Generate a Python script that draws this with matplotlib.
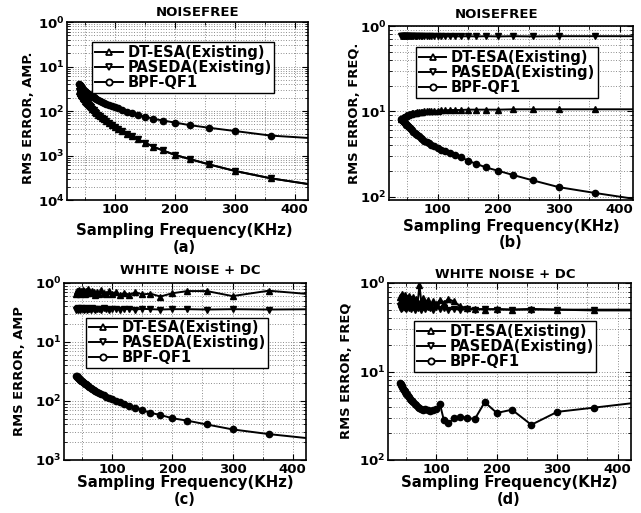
import matplotlib
matplotlib.use("Agg")
import matplotlib.pyplot as plt
from matplotlib.ticker import FixedLocator, NullFormatter, LogLocator

plt.rcParams['font.family'] = ['DejaVu Sans']
plt.rcParams['mathtext.default'] = 'regular'

# ---------------- data ----------------
fs_khz = [450.0, 360.0, 300.0, 257.1, 225.0, 200.0, 180.0, 163.6, 150.0, 138.5,
          128.6, 120.0, 112.5, 105.9, 100.0, 94.7, 90.0, 85.7, 81.8, 78.3,
          75.0, 72.0, 69.2, 66.7, 64.3, 62.1, 60.0, 58.1, 56.3, 54.5,
          52.9, 51.4, 50.0, 48.6, 47.4, 46.2, 45.0, 43.9, 42.9, 41.9,
          40.9, 40.0]

# (a) NOISEFREE amplitude error
bpf_a = [0.00235, 0.0028, 0.00355, 0.0042, 0.0048, 0.0055, 0.0061, 0.0067, 0.0075, 0.0082,
         0.0089, 0.0097, 0.0106, 0.0114, 0.0122, 0.0130, 0.0138, 0.0146, 0.0154, 0.0162,
         0.0170, 0.0178, 0.0186, 0.0194, 0.0202, 0.0210, 0.0218, 0.0226, 0.0235, 0.0244,
         0.0254, 0.0264, 0.0275, 0.0287, 0.0300, 0.0313, 0.0327, 0.0342, 0.0358, 0.0375,
         0.0393, 0.0412]
dtesa_a = [0.000200, 0.000307, 0.00045, 0.00063, 0.00083, 0.00103, 0.0013, 0.00158, 0.00195, 0.0023,
           0.0027, 0.0031, 0.0035, 0.0039, 0.0044, 0.0049, 0.0054, 0.0059, 0.0065, 0.0071,
           0.0077, 0.0083, 0.0090, 0.0097, 0.0104, 0.0112, 0.0120, 0.0128, 0.0136, 0.0145,
           0.0154, 0.0163, 0.0172, 0.0182, 0.0192, 0.0202, 0.0213, 0.0224, 0.0236, 0.0248,
           0.0261, 0.0275]
paseda_a = [0.000200, 0.000307, 0.00045, 0.00063, 0.00083, 0.00103, 0.0013, 0.00158, 0.00195, 0.0023,
            0.0027, 0.0031, 0.0035, 0.0039, 0.0044, 0.0049, 0.0054, 0.0059, 0.0065, 0.0071,
            0.0077, 0.0083, 0.0090, 0.0097, 0.0104, 0.0112, 0.0120, 0.0128, 0.0136, 0.0145,
            0.0154, 0.0163, 0.0172, 0.0182, 0.0192, 0.0202, 0.0213, 0.0224, 0.0236, 0.0248,
            0.0261, 0.0275]

# (b) NOISEFREE frequency error
dtesa_b = [0.106, 0.106, 0.106, 0.106, 0.106, 0.105, 0.105, 0.105, 0.105, 0.104,
           0.104, 0.104, 0.103, 0.103, 0.102, 0.102, 0.101, 0.101, 0.100, 0.100,
           0.099, 0.099, 0.098, 0.098, 0.097, 0.096, 0.096, 0.095, 0.094, 0.094,
           0.093, 0.092, 0.091, 0.090, 0.089, 0.088, 0.087, 0.086, 0.085, 0.084,
           0.083, 0.082]
paseda_b = [0.76, 0.76, 0.76, 0.755, 0.76, 0.755, 0.76, 0.755, 0.76, 0.755,
            0.76, 0.755, 0.76, 0.755, 0.76, 0.755, 0.76, 0.755, 0.76, 0.755,
            0.76, 0.755, 0.76, 0.755, 0.76, 0.755, 0.76, 0.755, 0.76, 0.755,
            0.76, 0.755, 0.76, 0.755, 0.76, 0.755, 0.76, 0.755, 0.76, 0.755,
            0.76, 0.755]
bpf_b = [0.0089, 0.0111, 0.0130, 0.0156, 0.0180, 0.0202, 0.0221, 0.0244, 0.0265, 0.0293,
         0.0310, 0.0325, 0.0342, 0.0358, 0.0372, 0.0390, 0.0405, 0.0422, 0.0440, 0.0457,
         0.0475, 0.0492, 0.0510, 0.0528, 0.0546, 0.0564, 0.0582, 0.0600, 0.0618, 0.0636,
         0.0654, 0.0670, 0.0686, 0.0700, 0.0716, 0.0730, 0.0745, 0.0760, 0.0775, 0.0790,
         0.0805, 0.0820]

# (c) WHITE NOISE + DC amplitude error
dtesa_c = [0.62, 0.74, 0.60, 0.73, 0.73, 0.67, 0.59, 0.66, 0.64, 0.70,
           0.63, 0.68, 0.62, 0.70, 0.66, 0.72, 0.64, 0.69, 0.75, 0.66,
           0.71, 0.63, 0.70, 0.74, 0.67, 0.72, 0.78, 0.69, 0.74, 0.66,
           0.72, 0.77, 0.68, 0.73, 0.65, 0.71, 0.76, 0.67, 0.72, 0.69,
           0.74, 0.66]
paseda_c = [0.36, 0.355, 0.36, 0.355, 0.36, 0.36, 0.355, 0.36, 0.365, 0.355,
            0.36, 0.365, 0.355, 0.36, 0.365, 0.355, 0.36, 0.37, 0.355, 0.36,
            0.365, 0.355, 0.36, 0.37, 0.355, 0.365, 0.36, 0.355, 0.37, 0.36,
            0.355, 0.365, 0.36, 0.37, 0.355, 0.365, 0.36, 0.355, 0.37, 0.36,
            0.365, 0.355]
bpf_c = [0.0022, 0.00275, 0.0033, 0.0040, 0.00464, 0.0051, 0.0058, 0.0063, 0.0070, 0.0077,
         0.0083, 0.0089, 0.0095, 0.0101, 0.0107, 0.0113, 0.0119, 0.0125, 0.0131, 0.0137,
         0.0143, 0.0149, 0.0155, 0.0161, 0.0167, 0.0173, 0.0179, 0.0185, 0.0191, 0.0197,
         0.0203, 0.0209, 0.0215, 0.0221, 0.0227, 0.0233, 0.0239, 0.0245, 0.0251, 0.0257,
         0.0263, 0.0268]

# (d) WHITE NOISE + DC frequency error
dtesa_d = [0.50, 0.50, 0.50, 0.51, 0.50, 0.51, 0.50, 0.51, 0.52, 0.55,
           0.62, 0.66, 0.60, 0.64, 0.58, 0.62, 0.55, 0.64, 0.60, 0.68,
           0.62, 0.95, 0.60, 0.66, 0.58, 0.70, 0.63, 0.66, 0.59, 0.72,
           0.64, 0.68, 0.60, 0.74, 0.66, 0.70, 0.62, 0.75, 0.68, 0.72,
           0.64, 0.70]
paseda_d = [0.49, 0.49, 0.50, 0.50, 0.50, 0.50, 0.51, 0.50, 0.51, 0.50,
            0.51, 0.50, 0.52, 0.51, 0.53, 0.50, 0.52, 0.54, 0.51, 0.53,
            0.50, 0.55, 0.52, 0.54, 0.50, 0.53, 0.55, 0.51, 0.54, 0.52,
            0.56, 0.53, 0.51, 0.55, 0.52, 0.54, 0.56, 0.52, 0.55, 0.53,
            0.51, 0.55]
bpf_d = [0.046, 0.039, 0.035, 0.025, 0.037, 0.034, 0.045, 0.029, 0.030, 0.031,
         0.0295, 0.026, 0.028, 0.043, 0.038, 0.037, 0.036, 0.037, 0.038, 0.037,
         0.038, 0.039, 0.040, 0.042, 0.043, 0.045, 0.046, 0.048, 0.049, 0.051,
         0.053, 0.055, 0.056, 0.058, 0.060, 0.062, 0.064, 0.066, 0.068, 0.070,
         0.072, 0.074]

series_names = ['DT-ESA(Existing)', 'PASEDA(Existing)', 'BPF-QF1']
panel_titles = ['NOISEFREE', 'NOISEFREE', 'WHITE NOISE + DC', 'WHITE NOISE + DC']
panel_ylabels = ['RMS ERROR, AMP.', 'RMS ERROR, FREQ.', 'RMS ERROR, AMP', 'RMS ERROR, FREQ']
panel_tags = ['(a)', '(b)', '(c)', '(d)']
x_label = 'Sampling Frequency(KHz)'
x_ticks = [100, 200, 300, 400]
ytick_vals_a = [1, 1e-1, 1e-2, 1e-3, 1e-4]
ytick_vals_b = [1, 1e-1, 1e-2]
ytick_vals_c = [1, 1e-1, 1e-2, 1e-3]
ytick_vals_d = [1, 1e-1, 1e-2]
ytick_text_a = ['$10^{0}$', '$10^{1}$', '$10^{2}$', '$10^{3}$', '$10^{4}$']
ytick_text_b = ['$10^{0}$', '$10^{1}$', '$10^{2}$']
ytick_text_c = ['$10^{0}$', '$10^{1}$', '$10^{2}$', '$10^{3}$']
ytick_text_d = ['$10^{0}$', '$10^{1}$', '$10^{2}$']

# ---------------- layout ----------------
W, H = 641, 513
fig = plt.figure(figsize=(W / 100, H / 100), dpi=100)


def ax_px(left, top, right, bottom):
    return fig.add_axes([left / W, 1 - bottom / H, (right - left) / W, (bottom - top) / H])


def ftext(x, y, s, **kw):
    fig.text(x / W, 1 - y / H, s, ha='center', va='center', **kw)


panels = [
    dict(box=(67, 22, 308, 200), ylim=(1e-4, 1), yt=ytick_vals_a, ytl=ytick_text_a,
         data=(dtesa_a, paseda_a, bpf_a), leg=(0.105, 0.885),
         title=(198, 12), xl=(184, 230), tag=(184, 248), yl=(28, 118)),
    dict(box=(389, 26, 633, 200), ylim=(0.0092, 1), yt=ytick_vals_b, ytl=ytick_text_b,
         data=(dtesa_b, paseda_b, bpf_b), leg=(0.110, 0.880),
         title=(497, 15), xl=(511, 227), tag=(511, 243), yl=(355, 113)),
    dict(box=(64, 283, 306, 460), ylim=(1e-3, 1), yt=ytick_vals_c, ytl=ytick_text_c,
         data=(dtesa_c, paseda_c, bpf_c), leg=(0.092, 0.805),
         title=(190, 271), xl=(185, 483), tag=(185, 500), yl=(20, 371)),
    dict(box=(388, 283, 631, 460), ylim=(1e-2, 1), yt=ytick_vals_d, ytl=ytick_text_d,
         data=(dtesa_d, paseda_d, bpf_d), leg=(0.108, 0.785),
         title=(505, 275), xl=(509, 483), tag=(509, 500), yl=(346, 371)),
]

markers = ['^', 'v', 'o']
for i, p in enumerate(panels):
    ax = ax_px(*p['box'])
    ax.set_yscale('log')
    ax.set_xlim(20, 422)
    ax.set_ylim(*p['ylim'])
    for name, m, ys in zip(series_names, markers, p['data']):
        ax.plot(fs_khz, ys, color='k', lw=1.4, marker=m, ms=4.5,
                mfc='k', mec='k', mew=1.0, label=name, clip_on=True)
    ax.set_xticks(x_ticks)
    ax.set_xticklabels([str(t) for t in x_ticks], fontsize=9.5, fontweight='bold')
    ax.xaxis.set_minor_locator(FixedLocator([50, 150, 250, 350]))
    ax.yaxis.set_major_locator(FixedLocator(p['yt']))
    ax.set_yticklabels(p['ytl'], fontsize=9.5, fontweight='bold')
    ax.yaxis.set_minor_locator(LogLocator(base=10, subs=[2, 3, 4, 5, 6, 7, 8, 9]))
    ax.yaxis.set_minor_formatter(NullFormatter())
    ax.tick_params(which='both', direction='in', top=True, right=True, pad=2)
    ax.tick_params(which='major', length=4, width=0.8)
    ax.tick_params(which='minor', length=2, width=0.6)
    ax.grid(True, which='both', color='0.4', linestyle=(0, (1, 2.2)), linewidth=0.6)
    for s in ax.spines.values():
        s.set_linewidth(1.2)
    leg = ax.legend(loc='upper left', bbox_to_anchor=p['leg'],
                    frameon=True, fancybox=False, framealpha=1, edgecolor='k',
                    borderpad=0.2, labelspacing=0.0, handlelength=1.9,
                    handletextpad=0.3, borderaxespad=0,
                    prop={'size': 10.5, 'weight': 'bold'})
    leg.get_frame().set_linewidth(1.0)
    for h in leg.legend_handles:
        h.set_markerfacecolor('white')
        h.set_markeredgewidth(1.3)
    ftext(*p['title'], panel_titles[i], fontsize=9.5, fontweight='bold')
    ftext(*p['xl'], x_label, fontsize=10.7, fontweight='bold')
    ftext(*p['tag'], panel_tags[i], fontsize=10.5, fontweight='bold')
    ftext(*p['yl'], panel_ylabels[i], fontsize=9.4, fontweight='bold', rotation=90)

fig.savefig('out.png', dpi=100)
